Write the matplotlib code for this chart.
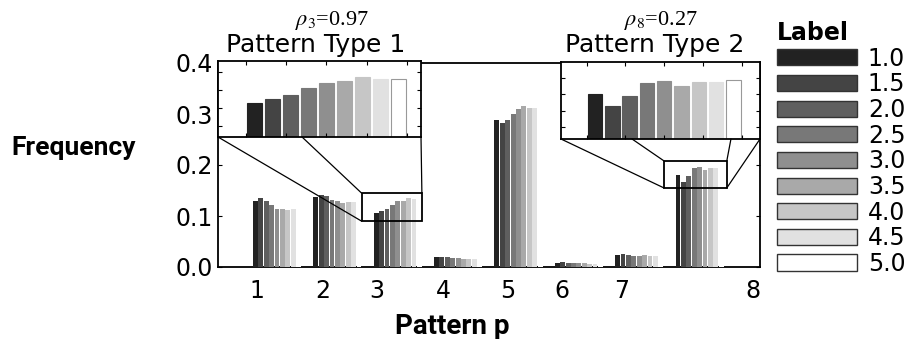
import numpy as np
import matplotlib
matplotlib.use("Agg")
import matplotlib.pyplot as plt
from matplotlib.patches import Patch, Rectangle, ConnectionPatch

plt.rcParams['mathtext.fontset'] = 'stix'

# frequency of each pattern p (1..8), one list per label value
labels = ['1.0', '1.5', '2.0', '2.5', '3.0', '3.5', '4.0', '4.5', '5.0']
patterns = [1, 2, 3, 4, 5, 6, 7, 8]
lab_10 = [0.130, 0.137, 0.105, 0.019, 0.288, 0.0085, 0.0245, 0.180]
lab_15 = [0.135, 0.141, 0.1095, 0.020, 0.283, 0.0095, 0.026, 0.166]
lab_20 = [0.129, 0.139, 0.114, 0.0197, 0.288, 0.0085, 0.024, 0.1775]
lab_25 = [0.121, 0.132, 0.1225, 0.0177, 0.300, 0.0085, 0.022, 0.1935]
lab_30 = [0.114, 0.129, 0.1285, 0.017, 0.310, 0.007, 0.022, 0.1963]
lab_35 = [0.114, 0.125, 0.130, 0.0165, 0.316, 0.0072, 0.0235, 0.190]
lab_40 = [0.111, 0.127, 0.135, 0.0165, 0.312, 0.0068, 0.0215, 0.1947]
lab_45 = [0.113, 0.127, 0.133, 0.0165, 0.311, 0.006, 0.0215, 0.1947]
lab_50 = [0.112, 0.126, 0.133, 0.016, 0.310, 0.006, 0.021, 0.1976]
series = [lab_10, lab_15, lab_20, lab_25, lab_30, lab_35, lab_40, lab_45, lab_50]

grays = ['#222222', '#444444', '#5f5f5f', '#787878', '#8f8f8f', '#a9a9a9',
         '#c6c6c6', '#e1e1e1', '#ffffff']
tick_pos = [0.67, 1.76, 2.66, 3.75, 4.83, 5.72, 6.71, 8.88]  # labels sit off-centre in the original

W, H = 920, 339
fig = plt.figure(figsize=(W / 100, H / 100), dpi=100)

def fbox(x0, y0, x1, y1):
    # pixel box -> figure fraction
    return [x0 / W, 1 - y1 / H, (x1 - x0) / W, (y1 - y0) / H]

ax = fig.add_axes(fbox(218, 63, 760, 267))
step = 0.0894
xs = np.array(patterns, dtype=float)
for j, (vals, c) in enumerate(zip(series, grays)):
    ax.bar(xs + (j - 4) * step, vals, width=step * 0.9, color=c, linewidth=0, zorder=3)

ax.set_xlim(0.023, 9.0)
ax.set_ylim(0, 0.4)
ax.set_yticks([0, 0.1, 0.2, 0.3, 0.4], ['0.0', '0.1', '0.2', '0.3', '0.4'])
ax.set_xticks(tick_pos, [str(p) for p in patterns])
ax.tick_params(axis='x', length=0, pad=9, labelsize=17)
ax.tick_params(axis='y', direction='in', length=3, right=True, labelsize=17, pad=4)
for sp in ax.spines.values():
    sp.set_linewidth(1.3)


def zoom_inset(box_px, xlim, ylim, rect, links):
    ins = fig.add_axes(fbox(*box_px))
    for j, (vals, c) in enumerate(zip(series, grays)):
        ec = '#999999' if c == '#ffffff' else c
        ins.bar(xs + (j - 4) * step, vals, width=step * 0.84, color=c,
                edgecolor=ec, linewidth=0.8)
    ins.set_xlim(*xlim)
    ins.set_ylim(*ylim)
    ins.set_xticks(np.arange(np.ceil(xlim[0] * 5) / 5, xlim[1], 0.2))
    ins.set_yticks(np.arange(np.ceil(ylim[0] * 50) / 50, ylim[1], 0.02))
    ins.tick_params(direction='in', length=3, top=True, right=True,
                    labelleft=False, labelbottom=False)
    for sp in ins.spines.values():
        sp.set_linewidth(1.3)
    x0, x1, y0, y1 = rect
    ax.add_patch(Rectangle((x0, y0), x1 - x0, y1 - y0, fill=False,
                           ec='black', lw=1.3, zorder=5))
    for fa, pb in links:
        fig.add_artist(ConnectionPatch(xyA=(fa, 0), coordsA=ins.transAxes,
                                       xyB=pb, coordsB=ax.transData,
                                       lw=0.9, color='black'))
    return ins


r1 = (2.40, 3.40, 0.09, 0.145)
zoom_inset((218, 61, 421, 137), (2.461, 3.471), (0.067, 0.153), r1,
           [(0.0, (r1[0], r1[2])), (0.414, (r1[0], r1[3])), (1.0, (r1[1], r1[3]))])
r2 = (7.41, 8.45, 0.155, 0.208)
zoom_inset((561, 62, 760, 139), (7.467, 8.495), (0.125, 0.2196), r2,
           [(0.0, (r2[0], r2[2])), (0.357, (r2[0], r2[3])),
            (0.854, (r2[1], r2[3])), (1.0, (r2[1], r2[2]))])

fig.text(332 / W, 1 - 25 / H, r'$\rho_3$=0.97', ha='center', va='baseline',
         family='Liberation Serif', fontsize=16)
fig.text(661 / W, 1 - 25 / H, r'$\rho_8$=0.27', ha='center', va='baseline',
         family='Liberation Serif', fontsize=16)
fig.text(316 / W, 1 - 52 / H, 'Pattern Type 1', ha='center', va='baseline', fontsize=18)
fig.text(655 / W, 1 - 52 / H, 'Pattern Type 2', ha='center', va='baseline', fontsize=18)

fig.text(136 / W, 1 - 155 / H, 'Frequency', ha='right', va='baseline',
         fontsize=19, weight='bold', family='Roboto')
fig.text(452 / W, 1 - 334 / H, 'Pattern p', ha='center', va='baseline',
         fontsize=20, weight='bold', family='Roboto')

handles = [Patch(facecolor=c, edgecolor='#333333', linewidth=1.0) for c in grays]
leg = fig.legend(handles, labels, title='Label', loc='upper left',
                 bbox_to_anchor=(777 / W, 1 - 21 / H), frameon=False,
                 fontsize=17, title_fontproperties={'size': 17, 'weight': 'bold'},
                 handlelength=3.4, handleheight=0.68, handletextpad=0.45,
                 labelspacing=0.07, borderpad=0, borderaxespad=0)
leg._legend_box.align = 'left'

fig.savefig('out.png', dpi=100)
